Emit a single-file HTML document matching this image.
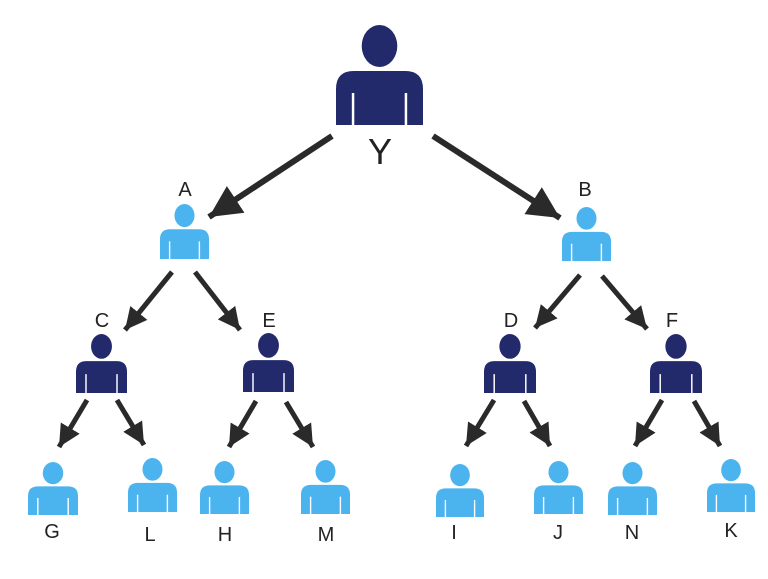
<!DOCTYPE html>
<html><head><meta charset="utf-8"><style>
html,body{margin:0;padding:0;background:#fff;}
svg{display:block;}
text{font-family:"Liberation Sans",sans-serif;fill:#222;text-anchor:middle;}
</style></head><body>
<svg width="768" height="579" viewBox="0 0 768 579" xmlns="http://www.w3.org/2000/svg">
<defs>
<symbol id="p" viewBox="0 0 88 100" preserveAspectRatio="none">
<ellipse cx="44" cy="21" rx="18" ry="21"/>
<path d="M0 100 V64 Q0 46 18 46 H70 Q88 46 88 64 V100 Z"/>
<rect x="16" y="68" width="2.5" height="32" fill="#fff"/>
<rect x="69.5" y="68" width="2.5" height="32" fill="#fff"/>
</symbol>
<marker id="big" markerUnits="userSpaceOnUse" markerWidth="40" markerHeight="40" refX="32" refY="16" orient="auto">
<path d="M0 0 L32 16 L0 32 Z" fill="#2a2a2a"/>
</marker>
<marker id="sm" markerUnits="userSpaceOnUse" markerWidth="30" markerHeight="30" refX="22" refY="11" orient="auto">
<path d="M0 0 L22 11 L0 22 Z" fill="#2a2a2a"/>
</marker>
</defs>
<g stroke="#2a2a2a" stroke-width="6">
<line x1="332" y1="136" x2="209" y2="217" marker-end="url(#big)"/>
<line x1="433" y1="136" x2="560" y2="218" marker-end="url(#big)"/>
</g>
<g stroke="#2a2a2a" stroke-width="5">
<line x1="172" y1="272" x2="125" y2="330" marker-end="url(#sm)"/>
<line x1="195" y1="272" x2="240" y2="330" marker-end="url(#sm)"/>
<line x1="580" y1="275" x2="535" y2="328" marker-end="url(#sm)"/>
<line x1="602" y1="276" x2="647" y2="329" marker-end="url(#sm)"/>
<line x1="87" y1="400" x2="59" y2="447" marker-end="url(#sm)"/>
<line x1="117" y1="400" x2="144" y2="445" marker-end="url(#sm)"/>
<line x1="256" y1="401" x2="229" y2="447" marker-end="url(#sm)"/>
<line x1="286" y1="402" x2="313" y2="447" marker-end="url(#sm)"/>
<line x1="494" y1="400" x2="466" y2="446" marker-end="url(#sm)"/>
<line x1="524" y1="401" x2="550" y2="446" marker-end="url(#sm)"/>
<line x1="662" y1="400" x2="635" y2="446" marker-end="url(#sm)"/>
<line x1="694" y1="401" x2="720" y2="446" marker-end="url(#sm)"/>
</g>
<g fill="#232a6c">
<use href="#p" x="336" y="25" width="87" height="100"/>
<use href="#p" x="76" y="334" width="51" height="59"/>
<use href="#p" x="243" y="333" width="51" height="59"/>
<use href="#p" x="484" y="334" width="52" height="59"/>
<use href="#p" x="650" y="334" width="52" height="59"/>
</g>
<g fill="#4bb4ef">
<use href="#p" x="160" y="204" width="49" height="55"/>
<use href="#p" x="562" y="207" width="49" height="54"/>
<use href="#p" x="28" y="462" width="50" height="53"/>
<use href="#p" x="128" y="458" width="49" height="54"/>
<use href="#p" x="200" y="461" width="49" height="53"/>
<use href="#p" x="301" y="460" width="49" height="54"/>
<use href="#p" x="436" y="464" width="48" height="53"/>
<use href="#p" x="534" y="461" width="49" height="53"/>
<use href="#p" x="608" y="462" width="49" height="53"/>
<use href="#p" x="707" y="459" width="48" height="53"/>
</g>
<text x="380" y="164" font-size="36">Y</text>
<g font-size="20">
<text x="185" y="196">A</text>
<text x="585" y="196">B</text>
<text x="102" y="327">C</text>
<text x="269" y="327">E</text>
<text x="511" y="327">D</text>
<text x="672" y="327">F</text>
<text x="52" y="538">G</text>
<text x="150" y="541">L</text>
<text x="225" y="541">H</text>
<text x="326" y="541">M</text>
<text x="454" y="539">I</text>
<text x="558" y="539">J</text>
<text x="632" y="539">N</text>
<text x="731" y="537">K</text>
</g>
</svg>
</body></html>
